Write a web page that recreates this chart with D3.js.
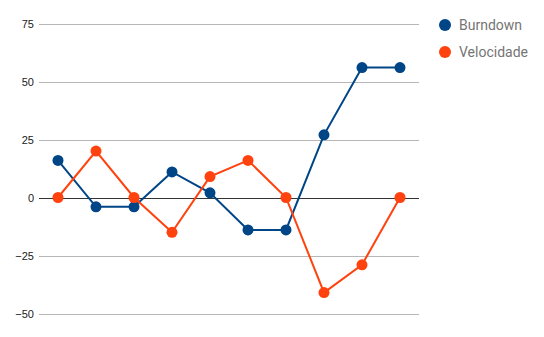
<!DOCTYPE html>
<html lang="pt">
<head>
    <meta charset="UTF-8">
    <title>Burndown</title>
    <script src="https://cdn.jsdelivr.net/npm/d3@7"></script>
    <style>
        body { margin: 0; background: #fff; }
    </style>
</head>
<body>
<script>
    const sprints = ['1', '2', '3', '4', '5', '6', '7', '8', '9', '10']
    const burndown = [16, -4, -4, 11, 2, -14, -14, 27, 56, 56]
    const velocidade = [0, 20, 0, -15, 9, 16, 0, -41, -29, 0]
    const yTicks = [-50, -25, 0, 25, 50, 75]
    const seriesNames = ['Burndown', 'Velocidade']
    const colors = ['#004586', '#ff420e']

    const [width, height] = [544, 337]
    const plot = {left: 39, right: 419, top: 23.5, bottom: 313.5}

    const svg = d3.select('body')
        .append('svg')
            .attr('width', width)
            .attr('height', height)

    const x = d3.scalePoint().domain(sprints).range([plot.left, plot.right]).padding(0.5)
    const y = d3.scaleLinear().domain([-50, 75]).range([plot.bottom, plot.top])

    // linhas de grade com os rótulos à esquerda
    const yAxis = d3.axisLeft(y).tickValues(yTicks).tickSize(-(plot.right - plot.left)).tickPadding(5)
    const gy = svg.append('g')
        .attr('transform', `translate(${plot.left}, 0)`)
        .call(yAxis)
    gy.select('.domain').remove()
    gy.selectAll('.tick line')
        .attr('stroke', d => d === 0 ? '#333' : '#b7b7b7')
        .attr('shape-rendering', 'crispEdges')
    gy.selectAll('.tick text')
        .attr('fill', '#222')
        .attr('font-family', '"Liberation Sans", Arial, sans-serif')
        .attr('font-size', 11)

    const line = d3.line().x((d, i) => x(sprints[i])).y(d => y(d))

    ;[burndown, velocidade].forEach((values, k) => {
        svg.append('path')
            .datum(values)
            .attr('fill', 'none')
            .attr('stroke', colors[k])
            .attr('stroke-width', 2)
            .attr('d', line)
        svg.append('g').selectAll('circle')
            .data(values)
            .join('circle')
                .attr('cx', (d, i) => x(sprints[i]))
                .attr('cy', d => y(d))
                .attr('r', 5.5)
                .attr('fill', colors[k])
    })

    const legend = svg.append('g').attr('transform', 'translate(445, 25)')
    const item = legend.selectAll('g')
        .data(seriesNames)
        .join('g')
            .attr('transform', (d, i) => `translate(0, ${i * 27})`)
    item.append('circle')
        .attr('r', 6)
        .attr('fill', (d, i) => colors[i])
    item.append('text')
        .attr('x', 14)
        .attr('dy', '0.35em')
        .attr('fill', '#757575')
        .attr('font-family', 'Roboto, sans-serif')
        .attr('font-size', 14)
        .text(d => d)
</script>
</body>
</html>
